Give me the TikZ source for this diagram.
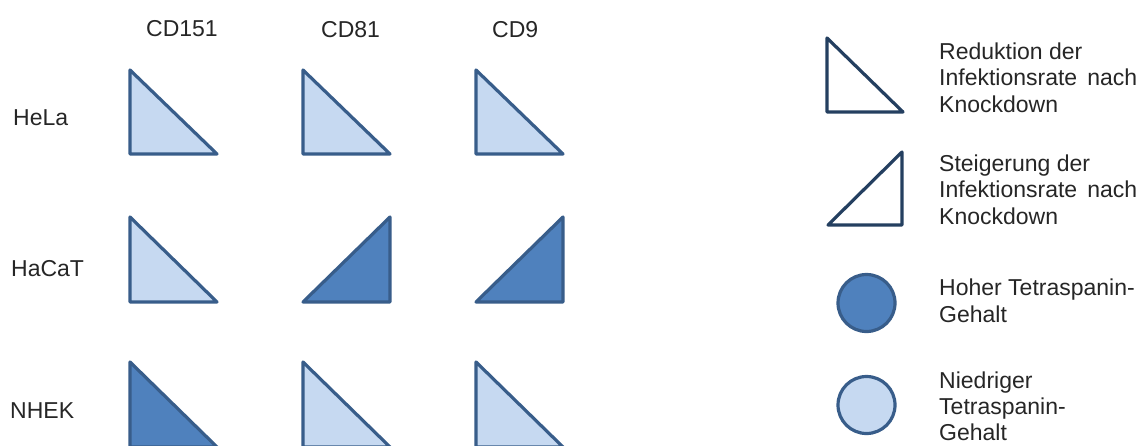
\documentclass[tikz,border=0pt]{standalone}
\usepackage{fontspec}
\setmainfont{Liberation Sans}
\definecolor{lightfill}{HTML}{C6D9F1}
\definecolor{darkfill}{HTML}{4F81BD}
\definecolor{edge}{HTML}{385D8A}
\definecolor{navy}{HTML}{243F60}
\definecolor{txt}{HTML}{262626}
\tikzset{
  tri/.style={draw=edge, line width=3.2pt, line join=round},
  legtri/.style={draw=navy, fill=white, line width=3.2pt, line join=round},
  legcirc/.style={draw=edge, line width=3.2pt},
  lbl/.style={inner sep=0pt, anchor=base west, text=txt, font=\fontsize{23}{26}\selectfont},
}
\begin{document}
\begin{tikzpicture}[x=1pt,y=-1pt]
\useasboundingbox (0,0) rectangle (1142,445);
\clip (0,0) rectangle (1142,445);
\fill[white] (0,0) rectangle (1142,445);
% column headings
\node[lbl] (h1) at (146,36) {CD151};
\node[lbl] (h2) at (321,37) {CD81};
\node[lbl] (h3) at (492,37) {CD9};
% row labels
\node[lbl] (r1) at (13,125) {HeLa};
\node[lbl] (r2) at (11,276) {HaCaT};
\node[lbl] (r3) at (10,418) {NHEK};
% cell corners (top-left)
\coordinate (c11) at (130,70);  \coordinate (c12) at (303,70);  \coordinate (c13) at (476,70);
\coordinate (c21) at (130,217); \coordinate (c22) at (303,217); \coordinate (c23) at (476,217);
\coordinate (c31) at (130,362); \coordinate (c32) at (303,362); \coordinate (c33) at (476,362);
% row 1
\draw[tri, fill=lightfill] (c11) -- ++(0,84) -- ++(87,0) -- cycle;
\draw[tri, fill=lightfill] (c12) -- ++(0,84) -- ++(87,0) -- cycle;
\draw[tri, fill=lightfill] (c13) -- ++(0,84) -- ++(87,0) -- cycle;
% row 2
\draw[tri, fill=lightfill] (c21) -- ++(0,85) -- ++(87,0) -- cycle;
\draw[tri, fill=darkfill] (c22) ++(0,85) -- ++(87,0) -- ++(0,-85) -- cycle;
\draw[tri, fill=darkfill] (c23) ++(0,85) -- ++(87,0) -- ++(0,-85) -- cycle;
% row 3
\draw[tri, fill=darkfill] (c31) -- ++(0,85) -- ++(87,0) -- cycle;
\draw[tri, fill=lightfill] (c32) -- ++(0,85) -- ++(87,0) -- cycle;
\draw[tri, fill=lightfill] (c33) -- ++(0,85) -- ++(87,0) -- cycle;
% legend symbols
\coordinate (l1) at (827,38);
\coordinate (l2) at (828,225);
\draw[legtri] (l1) -- ++(0,74) -- ++(76,0) -- cycle;
\draw[legtri] (l2) -- ++(74,0) -- ++(0,-73) -- cycle;
\node[legcirc, fill=darkfill, circle, minimum size=57pt, inner sep=0pt] (k1) at (866.5,303) {};
\node[legcirc, fill=lightfill, circle, minimum size=57pt, inner sep=0pt] (k2) at (866.5,405) {};
% legend texts
\node[lbl] (t11) at (939,59) {Reduktion der};
\node[lbl] (t12) at (939,85.5) {\hbox to 198pt{Infektionsrate\hfil nach}};
\node[lbl] (t13) at (939,112) {Knockdown};
\node[lbl] (t21) at (939,171) {Steigerung der};
\node[lbl] (t22) at (939,197.5) {\hbox to 198pt{Infektionsrate\hfil nach}};
\node[lbl] (t23) at (939,224) {Knockdown};
\node[lbl] (t31) at (939,295) {Hoher Tetraspanin-};
\node[lbl] (t32) at (939,322) {Gehalt};
\node[lbl] (t41) at (939,388) {Niedriger};
\node[lbl] (t42) at (939,414) {Tetraspanin-};
\node[lbl] (t43) at (939,440) {Gehalt};
\end{tikzpicture}
\end{document}
